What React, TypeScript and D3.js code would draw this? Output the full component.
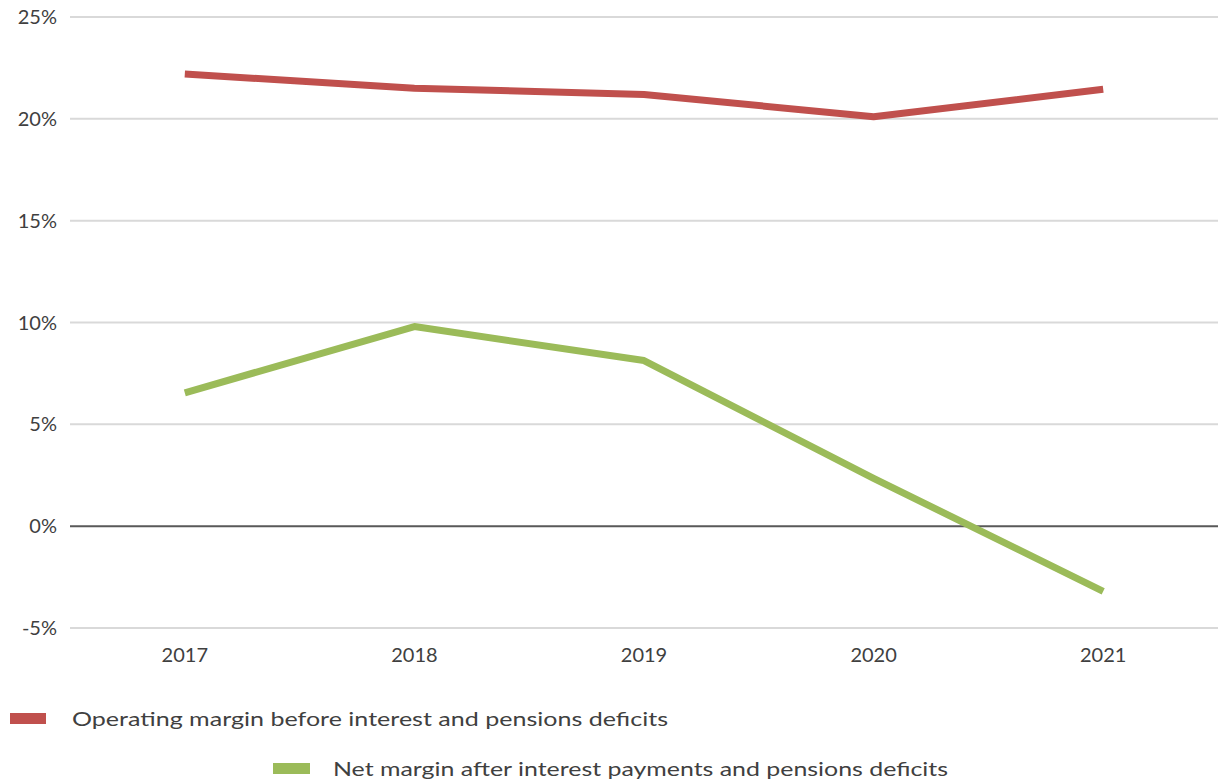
import React from "react";
import * as d3 from "d3";

const years = ["2017", "2018", "2019", "2020", "2021"];
const operatingMargin = [22.2, 21.5, 21.2, 20.1, 21.45];
const netMargin = [6.55, 9.8, 8.13, 2.35, -3.2];
const yTicks = [-5, 0, 5, 10, 15, 20, 25];
const legendLabels = [
  "Operating margin before interest and pensions deficits",
  "Net margin after interest payments and pensions deficits",
];
const colors = ["#c0504d", "#9bbb59"];

const W = 1218;
const H = 782;
const FONT = "Lato, 'Open Sans', sans-serif";
const TEXT = "#404040";

export default function App() {
  const x = d3.scaleBand<string>().domain(years).range([70, 1218]).padding(0);
  const y = d3.scaleLinear().domain([-5, 25]).range([628, 17]);
  const cx = (d: string) => (x(d) as number) + x.bandwidth() / 2;

  const line = d3
    .line<number>()
    .x((_, i) => cx(years[i]))
    .y((v) => y(v))
    .curve(d3.curveLinear);

  const series = [operatingMargin, netMargin];

  return (
    <svg
      width={W}
      height={H}
      style={{ position: "absolute", left: 0, top: 0, background: "#fff" }}
      fontFamily={FONT}
    >
      <rect x={0} y={0} width={W} height={H} fill="#fff" />
      {yTicks.map((t) => (
        <g key={t}>
          <line
            x1={70}
            x2={1218}
            y1={y(t)}
            y2={y(t)}
            stroke={t === 0 ? "#595959" : "#d9d9d9"}
            strokeWidth={2}
          />
          <text
            x={57}
            y={y(t)}
            dy="0.35em"
            textAnchor="end"
            fontSize={20}
            fill={TEXT}
          >
            {`${t}%`}
          </text>
        </g>
      ))}
      {years.map((yr) => (
        <text
          key={yr}
          x={cx(yr)}
          y={662}
          textAnchor="middle"
          fontSize={20}
          fill={TEXT}
        >
          {yr}
        </text>
      ))}
      {series.map((s, i) => (
        <path
          key={i}
          d={line(s) || ""}
          fill="none"
          stroke={colors[i]}
          strokeWidth={7}
          strokeLinejoin="round"
          strokeLinecap="butt"
        />
      ))}
      <rect x={10} y={713} width={36} height={11} fill={colors[0]} />
      <text x={72} y={726} fontSize={20} fill={TEXT} textLength={596} lengthAdjust="spacingAndGlyphs">
        {legendLabels[0]}
      </text>
      <rect x={273} y={763} width={37} height={11} fill={colors[1]} />
      <text x={333} y={776} fontSize={20} fill={TEXT} textLength={615} lengthAdjust="spacingAndGlyphs">
        {legendLabels[1]}
      </text>
    </svg>
  );
}
